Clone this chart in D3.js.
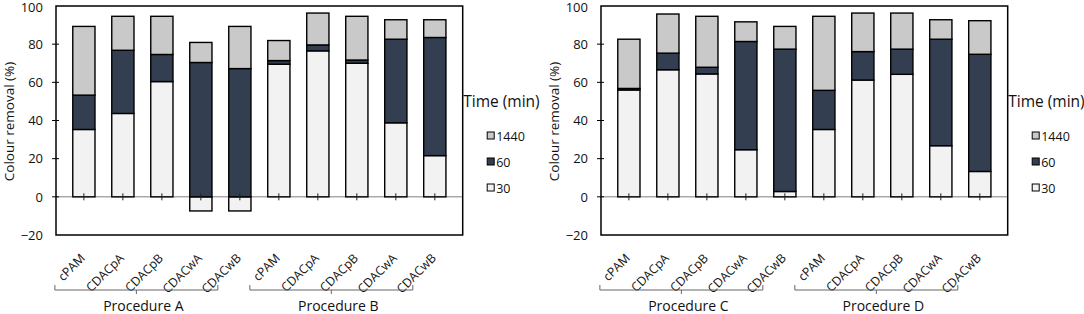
<!DOCTYPE html>
<html lang="en">
<head>
    <meta charset="UTF-8">
    <title>Colour removal</title>
    <script src="https://d3js.org/d3.v7.min.js"></script>
    <style>
        body {
            margin: 0;
            padding: 0;
            background-color: #fff;
        }
        svg text {
            font-family: "Open Sans", Lato, sans-serif;
            fill: #111;
        }
    </style>
</head>
<body>
    <svg id="chart" width="1084" height="314"></svg>

    <script>
        // categories repeat in each procedure
        const agents = ['cPAM', 'CDACpA', 'CDACpB', 'CDACwA', 'CDACwB'];
        const times = ['30', '60', '1440'];
        const yTicks = [-20, 0, 20, 40, 60, 80, 100];

        // segment values as stacked in the bars (left panel: A then B)
        const left30   = [35.3, 43.7, 60.4, -7.4, -7.4,   69.5, 76.5, 70.0, 38.8, 21.6];
        const left60   = [18.0, 33.1, 14.2, 70.4, 67.2,    1.9,  3.1,  1.7, 43.8, 61.9];
        const left1440 = [36.0, 17.8, 20.0, 10.5, 22.1,   10.5, 16.7, 22.9, 10.2,  9.3];

        // right panel: C then D
        const right30   = [56.0, 66.6, 64.4, 24.7,  2.8,   35.3, 61.2, 64.2, 26.8, 13.3];
        const right60   = [ 0.8,  8.7,  3.5, 56.7, 74.6,   20.5, 14.9, 13.2, 55.8, 61.4];
        const right1440 = [25.8, 20.5, 26.7, 10.3, 11.9,   38.8, 20.2, 18.9, 10.2, 17.6];

        const colors = { '30': '#f2f2f2', '60': '#333f50', '1440': '#c9c9c9' };

        const svg = d3.select('#chart');

        const panels = [
            { ox: 0, groups: ['Procedure A', 'Procedure B'], s30: left30, s60: left60, s1440: left1440 },
            { ox: 545, groups: ['Procedure C', 'Procedure D'], s30: right30, s60: right60, s1440: right1440 }
        ];

        const drawPanel = (p) => {
            const g = svg.append('g').attr('transform', `translate(${p.ox},0)`);
            const left = 56, right = 462.7, top = 6, bottom = 235;

            // category keys are unique per panel
            const keys = d3.range(10);
            const x = d3.scaleBand().domain(keys).range([left, right]).padding(0.43);
            const y = d3.scaleLinear().domain([-20, 100]).range([bottom, top]);
            const cx = d => x(d) + x.bandwidth() / 2;

            const rows = keys.map(i => ({ i: i, '30': p.s30[i], '60': p.s60[i], '1440': p.s1440[i] }));
            const stack = d3.stack().keys(times).offset(d3.stackOffsetDiverging);
            const series = stack(rows);

            // zero line
            g.append('line')
                .attr('x1', left).attr('x2', right)
                .attr('y1', y(0)).attr('y2', y(0))
                .attr('stroke', '#7f7f7f').attr('stroke-width', 1);

            // bars
            g.selectAll('.layer')
                .data(series)
                .enter()
                .append('g')
                .attr('fill', d => colors[d.key])
                .selectAll('rect')
                .data(d => d)
                .enter()
                .append('rect')
                .attr('x', d => x(d.data.i))
                .attr('y', d => y(Math.max(d[0], d[1])))
                .attr('width', x.bandwidth())
                .attr('height', d => Math.abs(y(d[0]) - y(d[1])))
                .attr('stroke', '#000')
                .attr('stroke-width', 1.4);

            // x tick marks on the zero line
            g.selectAll('.xtick')
                .data(keys)
                .enter()
                .append('line')
                .attr('x1', cx).attr('x2', cx)
                .attr('y1', y(0) - 3.5).attr('y2', y(0) + 3.5)
                .attr('stroke', '#222').attr('stroke-width', 1);

            // plot frame
            g.append('rect')
                .attr('x', left).attr('y', top)
                .attr('width', right - left).attr('height', bottom - top)
                .attr('fill', 'none').attr('stroke', '#000').attr('stroke-width', 1.5);

            // y axis ticks + labels
            const yAxis = d3.axisLeft(y).tickValues(yTicks).tickSize(0).tickPadding(13);
            const ya = g.append('g').attr('transform', `translate(${left},0)`).call(yAxis);
            ya.select('.domain').remove();
            ya.selectAll('text')
                .style('font-size', '13px')
                .style('font-family', '"Open Sans", sans-serif')
                .attr('fill', '#111');
            // keep the top label inside the picture
            ya.selectAll('.tick').filter(d => d === 100).select('text').attr('dy', '0.45em');
            g.selectAll('.ytick')
                .data(yTicks.filter(v => v > -20 && v < 100))
                .enter()
                .append('line')
                .attr('x1', left - 4).attr('x2', left + 3)
                .attr('y1', d => y(d)).attr('y2', d => y(d))
                .attr('stroke', '#000').attr('stroke-width', 1);

            // y axis title
            g.append('text')
                .attr('transform', `translate(14,121.5) rotate(-90)`)
                .attr('text-anchor', 'middle')
                .style('font-size', '13.5px')
                .text('Colour removal (%)');

            // category labels
            g.selectAll('.xlab')
                .data(keys)
                .enter()
                .append('text')
                .attr('text-anchor', 'end')
                .attr('transform', d => `translate(${cx(d) + 2},${259}) rotate(-45)`)
                .style('font-size', '12.3px')
                .text(d => agents[d % 5]);

            // brackets under the groups
            p.groups.forEach((name, gi) => {
                const bx0 = cx(gi * 5) - 29, bx1 = cx(gi * 5 + 4) - 22, by = 290;
                const mid = (bx0 + bx1) / 2;
                g.append('path')
                    .attr('d', `M${bx0},${by - 5}V${by}H${bx1}V${by - 5}M${mid},${by}V${by + 4}`)
                    .attr('fill', 'none').attr('stroke', '#666').attr('stroke-width', 1);
                g.append('text')
                    .attr('x', mid + 7).attr('y', 310.5)
                    .attr('text-anchor', 'middle')
                    .style('font-size', '14px')
                    .text(name);
            });

            // legend
            const lg = g.append('g').attr('transform', `translate(${right + 0.5},0)`);
            lg.append('text')
                .attr('x', 0).attr('y', 106.5)
                .style('font-size', '15.5px')
                .text('Time (min)');
            const legendItems = ['1440', '60', '30'];
            legendItems.forEach((k, j) => {
                const cy = 136 + j * 26;
                lg.append('rect')
                    .attr('x', 24).attr('y', cy - 4)
                    .attr('width', 7).attr('height', 7)
                    .attr('fill', colors[k])
                    .attr('stroke', '#000').attr('stroke-width', 1);
                lg.append('text')
                    .attr('x', 33).attr('y', cy + 5)
                    .style('font-size', '12.5px')
                    .text(k);
            });
        };

        panels.forEach(drawPanel);
    </script>
</body>
</html>
